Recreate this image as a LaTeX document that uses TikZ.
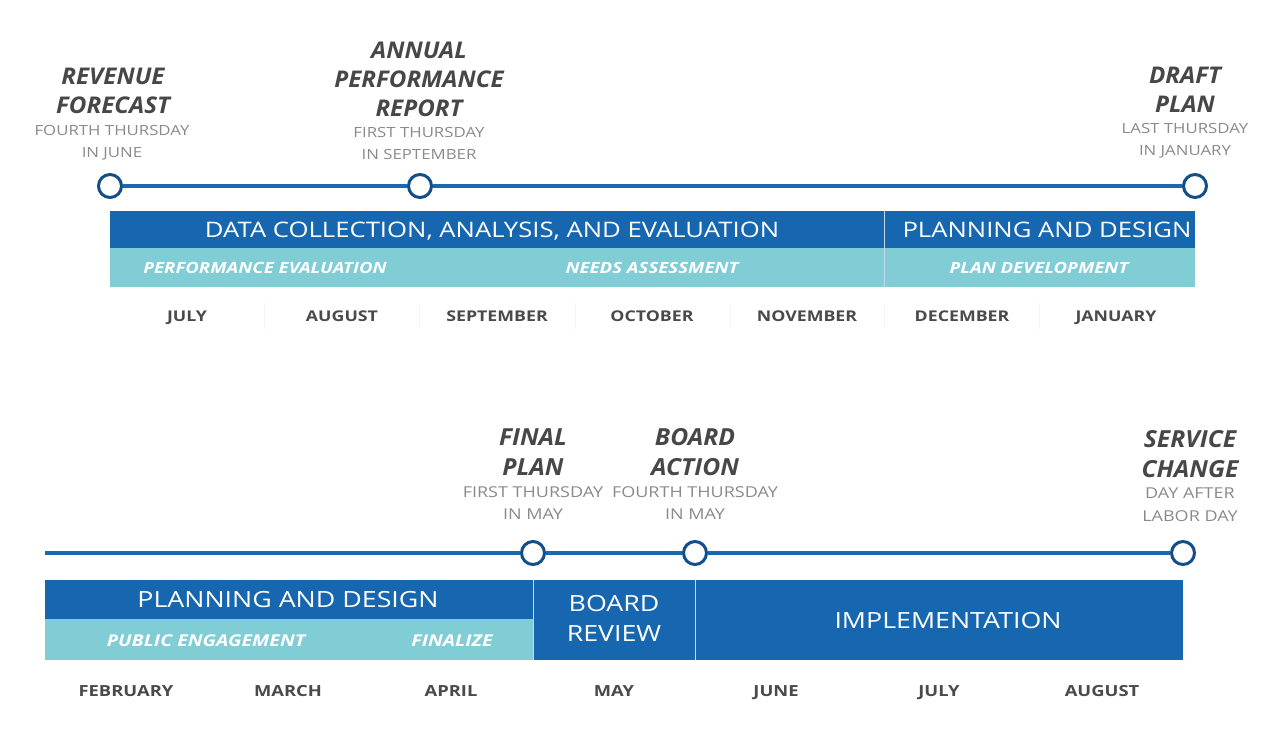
\documentclass[tikz,border=0pt]{standalone}
\usepackage{fontspec}
\setmainfont{Open Sans}[FakeStretch=1.2]
\newfontfamily\ttlfont{Open Sans}[FakeStretch=1.05]
\definecolor{dblue}{HTML}{1767B0}
\definecolor{lteal}{HTML}{80CDD6}
\definecolor{lineblue}{HTML}{1A68B0}
\definecolor{ringblue}{HTML}{124F8A}
\definecolor{ttl}{HTML}{474747}
\definecolor{sub}{HTML}{8A8A8A}
\definecolor{mon}{HTML}{4A4A4A}
\tikzset{
  ms/.style={circle, draw=ringblue, line width=3pt, fill=white, minimum size=23pt, inner sep=0pt},
  tline/.style={draw=lineblue, line width=3.2pt},
  barbox/.style={fill=dblue, draw=none, inner sep=0pt, anchor=north west},
  lightbar/.style={fill=lteal, draw=none, inner sep=0pt, anchor=north west},
  bartxt/.style={text=white, inner sep=0pt, anchor=base, align=center},
  sublbl/.style={text=white, inner sep=0pt, anchor=base},
  ttlbl/.style={text=ttl, align=center, inner sep=0pt, anchor=base},
  datelbl/.style={text=sub, align=center, inner sep=0pt, anchor=base},
  monlbl/.style={text=mon, inner sep=0pt, anchor=base},
  divline/.style={draw=white!75!dblue, line width=0.8pt},
  faint/.style={draw=black!4, line width=1pt},
}
\begin{document}
\begin{tikzpicture}[x=1pt,y=-1pt]
\useasboundingbox (0,0) rectangle (1265,740);
\fill[white] (0,0) rectangle (1265,740);

% ---------- TOP ----------
\node[lightbar, minimum width=1085pt, minimum height=40pt] (tl) at (110,247) {};
\node[barbox, minimum width=774pt, minimum height=37pt] (tb1) at (110,211) {};
\node[barbox, minimum width=311pt, minimum height=37pt] (tb2) at (884,211) {};
\draw[divline] (tb2.north west) -- (tl.south -| tb2.west);
\begin{scope}[every node/.append style={font=\fontsize{21.4}{21.4}\selectfont}]
\node[bartxt] (tt1) at (492,237) {DATA COLLECTION, ANALYSIS, AND EVALUATION};
\node[bartxt] (tt2) at (1047,237) {PLANNING AND DESIGN};
\end{scope}
\begin{scope}[every node/.append style={font=\fontsize{15.5}{15.5}\selectfont\bfseries\itshape}]
\node[sublbl] (ts1) at (265,273.5) {PERFORMANCE EVALUATION};
\node[sublbl] (ts2) at (652,273.5) {NEEDS ASSESSMENT};
\node[sublbl] (ts3) at (1039,273.5) {PLAN DEVELOPMENT};
\end{scope}

\begin{scope}[every node/.append style={font=\fontsize{14.8}{15}\selectfont\bfseries}]
\node[monlbl] (m1) at (187,321) {JULY};
\node[monlbl] (m2) at (342,321) {AUGUST};
\node[monlbl] (m3) at (497,321) {SEPTEMBER};
\node[monlbl] (m4) at (652,321) {OCTOBER};
\node[monlbl] (m5) at (807,321) {NOVEMBER};
\node[monlbl] (m6) at (962,321) {DECEMBER};
\node[monlbl] (m7) at (1116,321) {JANUARY};
\end{scope}
\foreach \xx in {264,419,575,730,884,1039} \draw[faint] (\xx,303) -- (\xx,329);

\node[ms] (c1) at (110,186) {};
\node[ms] (c2) at (420,186) {};
\node[ms] (c3) at (1195,186) {};
\draw[tline] (c1) -- (c2) -- (c3);

\begin{scope}[every node/.append style={font=\ttlfont\fontsize{23}{29}\selectfont\bfseries\itshape}]
\node[ttlbl] (r1) at (113,113.5) {REVENUE\\FORECAST};
\node[ttlbl] (a1) at (419,116) {ANNUAL\\PERFORMANCE\\REPORT};
\node[ttlbl] (d1) at (1185,112) {DRAFT\\PLAN};
\end{scope}
\begin{scope}[every node/.append style={font=\fontsize{14}{22}\selectfont}]
\node[datelbl] (r2) at (112,157) {FOURTH THURSDAY\\IN JUNE};
\node[datelbl] (a2) at (419,159) {FIRST THURSDAY\\IN SEPTEMBER};
\node[datelbl] (d2) at (1185,155) {LAST THURSDAY\\IN JANUARY};
\end{scope}

% ---------- BOTTOM ----------
\node[lightbar, minimum width=488pt, minimum height=42pt] (bl) at (45,618) {};
\node[barbox, minimum width=488pt, minimum height=39pt] (bb1) at (45,580) {};
\node[barbox, minimum width=162pt, minimum height=80pt] (bb2) at (533,580) {};
\node[barbox, minimum width=488pt, minimum height=80pt] (bb3) at (695,580) {};
\draw[divline] (bb2.north west) -- (bb2.south west);
\draw[divline] (bb3.north west) -- (bb3.south west);
\begin{scope}[every node/.append style={font=\fontsize{22.3}{30}\selectfont}]
\node[bartxt] (bt1) at (288,607.5) {PLANNING AND DESIGN};
\node[bartxt] (bt2) at (614,641.5) {BOARD\\REVIEW};
\node[bartxt] (bt3) at (948,628.5) {IMPLEMENTATION};
\end{scope}
\begin{scope}[every node/.append style={font=\fontsize{16.3}{16.3}\selectfont\bfseries\itshape}]
\node[sublbl] (bs1) at (206,646) {PUBLIC ENGAGEMENT};
\node[sublbl] (bs2) at (452,646) {FINALIZE};
\end{scope}

\begin{scope}[every node/.append style={font=\fontsize{15.3}{15.3}\selectfont\bfseries}]
\node[monlbl] (n1) at (126,696.5) {FEBRUARY};
\node[monlbl] (n2) at (288,696.5) {MARCH};
\node[monlbl] (n3) at (451,696.5) {APRIL};
\node[monlbl] (n4) at (614,696.5) {MAY};
\node[monlbl] (n5) at (776,696.5) {JUNE};
\node[monlbl] (n6) at (939,696.5) {JULY};
\node[monlbl] (n7) at (1102,696.5) {AUGUST};
\end{scope}

\coordinate (bstart) at (45,553);
\node[ms] (e1) at (533,553) {};
\node[ms] (e2) at (695,553) {};
\node[ms] (e3) at (1183,553) {};
\draw[tline] (bstart) -- (e1) -- (e2) -- (e3);

\begin{scope}[every node/.append style={font=\ttlfont\fontsize{23.5}{30}\selectfont\bfseries\itshape}]
\node[ttlbl] (f1) at (533,475) {FINAL\\PLAN};
\node[ttlbl] (g1) at (695,475) {BOARD\\ACTION};
\node[ttlbl] (h1) at (1190,477) {SERVICE\\CHANGE};
\end{scope}
\begin{scope}[every node/.append style={font=\fontsize{15}{22.5}\selectfont}]
\node[datelbl] (f2) at (533,519.5) {FIRST THURSDAY\\IN MAY};
\node[datelbl] (g2) at (695,519.5) {FOURTH THURSDAY\\IN MAY};
\node[datelbl] (h2) at (1190,521) {DAY AFTER\\LABOR DAY};
\end{scope}
\end{tikzpicture}
\end{document}
